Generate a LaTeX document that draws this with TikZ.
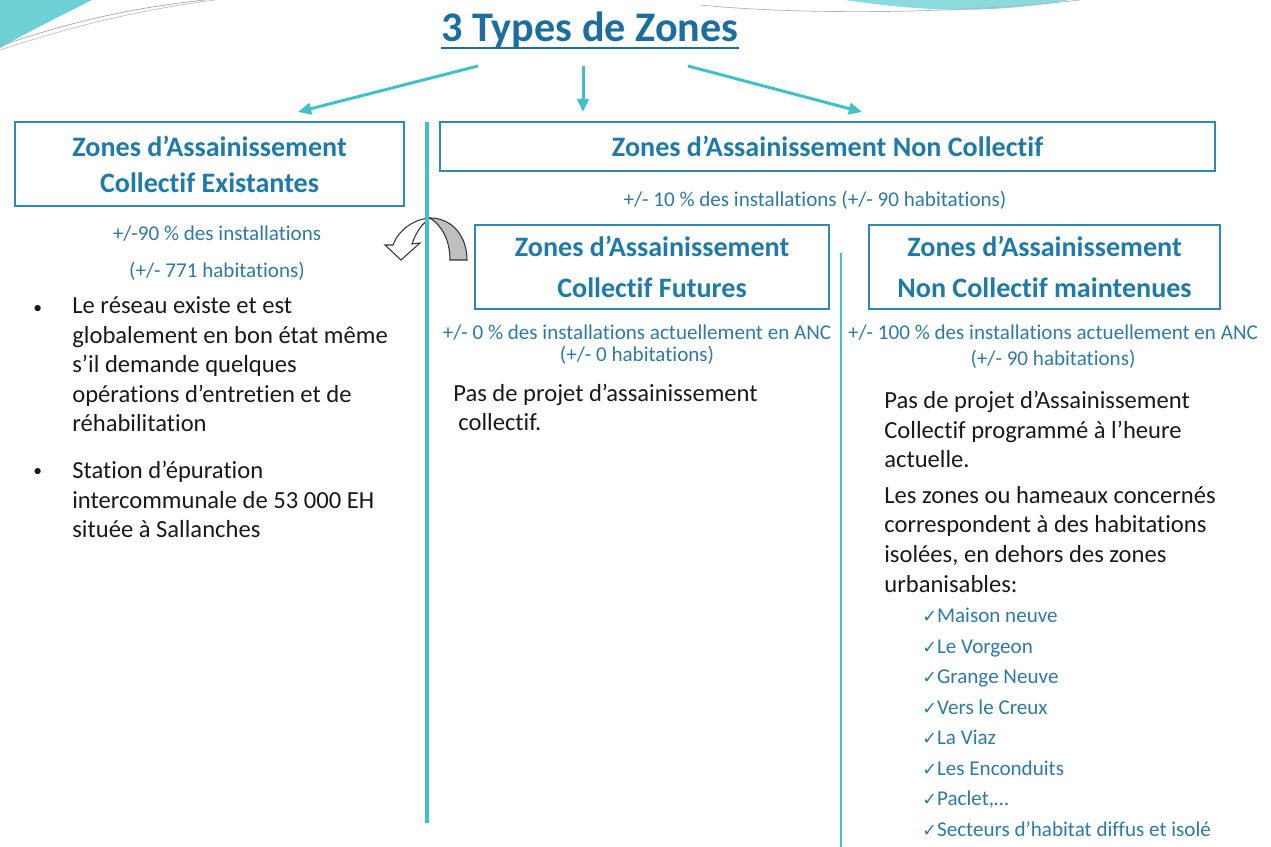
\documentclass[tikz,border=0pt]{standalone}
\usepackage{fontspec}
\setmainfont{Carlito}[Ligatures=NoCommon]
\newfontfamily\symfont{DejaVu Sans}
\usepackage{tikz}
\usetikzlibrary{arrows.meta, positioning}
\definecolor{titleblue}{RGB}{28, 110, 160}
\definecolor{headblue}{RGB}{30, 122, 168}
\definecolor{boxblue}{RGB}{48, 136, 180}
\definecolor{smallblue}{RGB}{44, 122, 165}
\definecolor{zoneturq}{RGB}{62, 194, 200}
\definecolor{bodygrey}{RGB}{25, 25, 25}
\newcommand{\chk}{{\symfont\fontsize{10}{10}\selectfont ✓}}
\tikzstyle{arrow} = [-{Triangle[length=7.5pt, width=6.5pt]}, line width=1.7pt, draw=zoneturq]
\tikzstyle{zonebox} = [rectangle, draw=boxblue, line width=1.1pt, inner sep=0pt, align=center,
                       text=headblue, font=\fontsize{16}{20.4}\selectfont\bfseries]
\tikzstyle{smalltxt} = [inner sep=0pt, align=center, anchor=base, text=smallblue,
                        font=\fontsize{12}{13}\selectfont]
\tikzstyle{bodytxt} = [inner sep=0pt, align=left, anchor=base west, text=bodygrey,
                       font=\fontsize{14}{16.8}\selectfont]
\tikzstyle{bulletdot} = [inner sep=0pt, anchor=base west, text=bodygrey, font=\fontsize{10}{10}\selectfont]

\begin{document}
\begin{tikzpicture}[x=0.02cm, y=-0.02cm]
    \useasboundingbox (0,0) rectangle (1271,847);
    % Slide decoration
    \fill[zoneturq!75] (0,0) -- (92,0) .. controls (60,16) and (28,32) .. (0,48) -- cycle;
    \draw[black!35, line width=0.4pt] (0,46) .. controls (70,22) and (130,8) .. (205,0);
    \draw[black!25, line width=0.4pt] (0,50) .. controls (80,24) and (140,10) .. (215,0);
    \fill[zoneturq!60] (845,0) .. controls (940,14) and (1000,12) .. (1070,0) -- cycle;
    \draw[black!30, line width=0.4pt] (700,5) .. controls (800,15) and (960,14) .. (1080,0);

    % Title
    \node[inner sep=0pt, anchor=base, text=titleblue, font=\fontsize{24}{28}\selectfont\bfseries]
        (title) at (590,42) {3 Types de Zones};
    \draw[titleblue, line width=1.3pt] ([yshift=-3.5pt]title.base west) -- ([yshift=-3.5pt]title.base east);

    % Zones
    \node[zonebox, minimum width=7.78cm, minimum height=1.68cm] (zace) at (209.5,164)
        {Zones d’Assainissement\\Collectif Existantes};
    \node[zonebox, minimum width=15.5cm, minimum height=0.98cm] (zanc) at (827.5,146.5)
        {Zones d’Assainissement Non Collectif};
    \node[zonebox, minimum width=7.08cm, minimum height=1.68cm,
          font=\fontsize{16}{23.2}\selectfont\bfseries] (zacf) at (652,267)
        {Zones d’Assainissement\\Collectif Futures};
    \node[zonebox, minimum width=7.02cm, minimum height=1.68cm,
          font=\fontsize{16}{23.2}\selectfont\bfseries] (zancm) at (1044.5,267)
        {Zones d’Assainissement\\Non Collectif maintenues};

    % Arrows from title
    \coordinate (startl) at (478,66);
    \coordinate (startm) at (583,66);
    \coordinate (startr) at (688,66);
    \coordinate (endl) at (298,112);
    \coordinate (endm) at (583,112);
    \coordinate (endr) at (862,112);
    \draw[arrow] (startl) -- (endl);
    \draw[arrow] (startm) -- (endm);
    \draw[arrow] (startr) -- (endr);

    % Curved arrow
    \filldraw[fill=white, draw=black!80, line width=0.6pt] (430,218) .. controls (413,219) and (398,231) .. (393,245)
        -- (385,245) -- (401,260) -- (420,243) -- (412,244) .. controls (416,232) and (422,224) .. (430,218) -- cycle;
    \filldraw[fill=black!25, draw=black!80, line width=0.6pt] (430,218) .. controls (452,218) and (467,236) .. (467,260)
        -- (450,260) .. controls (450,240) and (442,226) .. (430,218) -- cycle;

    % Dividers
    \draw[zoneturq, line width=2.8pt] (427,122) -- (427,823);
    \draw[zoneturq, line width=1.2pt] (841,253) -- (841,847);

    % Collectif existantes (anchors on the last line)
    \node[smalltxt] (pctace) at (217,241) {+/-90 \% des installations};
    \node[smalltxt] (habace) at (217,278) {(+/- 771 habitations)};
    \node[bulletdot] (bula) at (33,314) {•};
    \node[bodytxt] (reseau) at (72,432) {Le réseau existe et est\\globalement en bon état même\\s’il demande quelques\\opérations d’entretien et de\\réhabilitation};
    \node[bulletdot] (bulb) at (33,477) {•};
    \node[bodytxt] (station) at (72,538) {Station d’épuration\\intercommunale de 53 000 EH\\située à Sallanches};

    % Non collectif
    \node[smalltxt] (pctanc) at (815,207) {+/- 10 \% des installations (+/- 90 habitations)};

    % Collectif futures
    \node[smalltxt] (pctacf) at (637,362) {+/- 0 \% des installations actuellement en ANC\\(+/- 0 habitations)};
    \node[bodytxt] (projacf) at (453,431) {Pas de projet d’assainissement\\\hspace*{0.1cm}collectif.};

    % Non collectif maintenues
    \node[smalltxt, font=\fontsize{12}{15.3}\selectfont] (pctancm) at (1053,366) {+/- 100 \% des installations actuellement en ANC\\(+/- 90 habitations)};
    \node[bodytxt] (projancm) at (884,468) {Pas de projet d’Assainissement\\Collectif programmé à l’heure\\actuelle.};
    \node[bodytxt] (hameaux) at (884,592) {Les zones ou hameaux concernés\\correspondent à des habitations\\isolées, en dehors des zones\\urbanisables:};
    \node[bodytxt, text=smallblue, font=\fontsize{12}{17.35}\selectfont] (lieux) at (922,836)
        {\chk Maison neuve\\\chk Le Vorgeon\\\chk Grange Neuve\\\chk Vers le Creux\\\chk La Viaz\\\chk Les Enconduits\\\chk Paclet,…\\\chk Secteurs d’habitat diffus et isolé};
\end{tikzpicture}
\end{document}
